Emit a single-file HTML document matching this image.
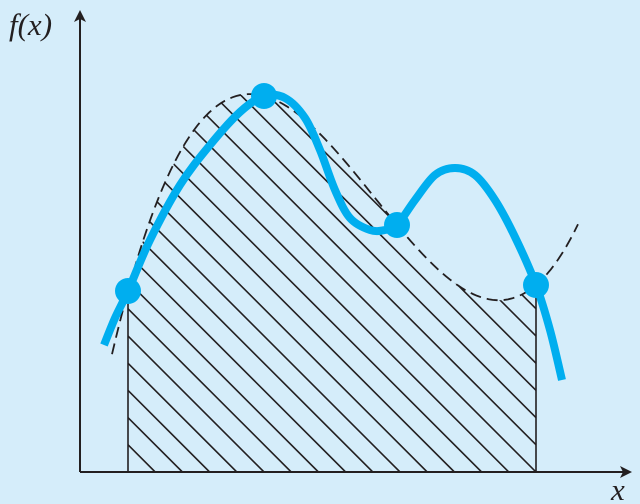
<!DOCTYPE html>
<html><head><meta charset="utf-8"><style>
html,body{margin:0;padding:0;background:#d5edfa;}
svg{display:block;}
</style></head><body>
<svg id="chart" width="640" height="504" viewBox="0 0 640 504">
<defs>
<marker id="arr" markerWidth="12" markerHeight="12" refX="10" refY="6" orient="auto" markerUnits="userSpaceOnUse"><path d="M0,0 L12,6 L0,12 L3,6 Z" fill="#231f20"/></marker>
<clipPath id="areaClip"><path id="clipPath"/></clipPath>
</defs>
<rect width="640" height="504" fill="#d5edfa"/>
<g id="hatch" clip-path="url(#areaClip)"></g>
<g id="marks"></g>
<line x1="80" y1="472" x2="80" y2="12" stroke="#231f20" stroke-width="2" marker-end="url(#arr)"/>
<line x1="80" y1="472" x2="630" y2="472" stroke="#231f20" stroke-width="2" marker-end="url(#arr)"/>
<text x="9" y="35" font-family="Liberation Serif, serif" font-style="italic" font-size="31" fill="#231f20">f(x)</text>
<text x="611" y="500" font-family="Liberation Serif, serif" font-style="italic" font-size="31" fill="#231f20">x</text>
</svg>
<script>
const nodeX = [0.96, 3.68, 6.34, 9.12];
const nodeY = [4.525, 9.4, 6.175, 4.675];
const funcX = [0.48,0.7,0.96,1.4,2.0,2.6,3.2,3.68,4.1,4.5,4.8,5.1,5.4,5.8,6.1,6.34,6.7,7.1,7.5,7.9,8.3,8.7,9.12,9.4,9.64];
const funcY = [3.175,3.85,4.525,5.8,7.175,8.175,9.0,9.4,9.35,8.85,8.05,7.05,6.35,6.05,6.05,6.175,6.8,7.425,7.6,7.425,6.8,5.875,4.675,3.55,2.3];
const dashRange = [0.64, 9.96];

const sx = x => 80 + x*50;
const sy = y => 472 - y*40;
const NS = "http://www.w3.org/2000/svg";
function lag(x){let s=0;for(let i=0;i<nodeX.length;i++){let t=nodeY[i];for(let j=0;j<nodeX.length;j++){if(j!==i)t*=(x-nodeX[j])/(nodeX[i]-nodeX[j]);}s+=t;}return s;}
function cubicPath(a,b){let d="";const n=120;for(let k=0;k<=n;k++){const x=a+(b-a)*k/n;d+=(k?"L":"M")+sx(x).toFixed(2)+","+sy(lag(x)).toFixed(2);}return d;}
function crPath(xs,ys){const p=xs.map((x,i)=>[sx(x),sy(ys[i])]);let d="M"+p[0][0]+","+p[0][1];for(let i=0;i<p.length-1;i++){const p0=p[Math.max(0,i-1)],p1=p[i],p2=p[i+1],p3=p[Math.min(p.length-1,i+2)];d+="C"+(p1[0]+(p2[0]-p0[0])/6)+","+(p1[1]+(p2[1]-p0[1])/6)+" "+(p2[0]-(p3[0]-p1[0])/6)+","+(p2[1]-(p3[1]-p1[1])/6)+" "+p2[0]+","+p2[1];}return d;}
const a=nodeX[0], b=nodeX[nodeX.length-1];
document.getElementById("clipPath").setAttribute("d", cubicPath(a,b)+"L"+sx(b)+","+sy(0)+"L"+sx(a)+","+sy(0)+"Z");
const hatch=document.getElementById("hatch");
for(let c=sx(a)-500;c<sx(b)+30;c+=27.2){
  const l=document.createElementNS(NS,"line");
  l.setAttribute("x1",c);l.setAttribute("y1",sy(0)-500);l.setAttribute("x2",c+500);l.setAttribute("y2",sy(0));
  l.setAttribute("stroke","#231f20");l.setAttribute("stroke-width","1.6");
  
  
  hatch.appendChild(l);
}
const marks=document.getElementById("marks");
[a,b].forEach(x=>{
  const l=document.createElementNS(NS,"line");
  l.setAttribute("x1",sx(x));l.setAttribute("x2",sx(x));l.setAttribute("y1",sy(0));l.setAttribute("y2",sy(lag(x)));
  l.setAttribute("stroke","#231f20");l.setAttribute("stroke-width","1.6");
  
  
  marks.appendChild(l);
});
const dp=document.createElementNS(NS,"path");
dp.setAttribute("d",cubicPath(dashRange[0],dashRange[1]));
dp.setAttribute("fill","none");dp.setAttribute("stroke","#231f20");dp.setAttribute("stroke-width","1.8");dp.setAttribute("stroke-dasharray","11,6");


marks.appendChild(dp);
const fp=document.createElementNS(NS,"path");
fp.setAttribute("d",crPath(funcX,funcY));
fp.setAttribute("fill","none");fp.setAttribute("stroke","#00aeef");fp.setAttribute("stroke-width","8");fp.setAttribute("stroke-linejoin","round");


marks.appendChild(fp);
nodeX.forEach((x,i)=>{
  const c=document.createElementNS(NS,"circle");
  c.setAttribute("cx",sx(x));c.setAttribute("cy",sy(nodeY[i]));c.setAttribute("r","13");c.setAttribute("fill","#00aeef");
  
  
  marks.appendChild(c);
});
</script>
</body></html>
